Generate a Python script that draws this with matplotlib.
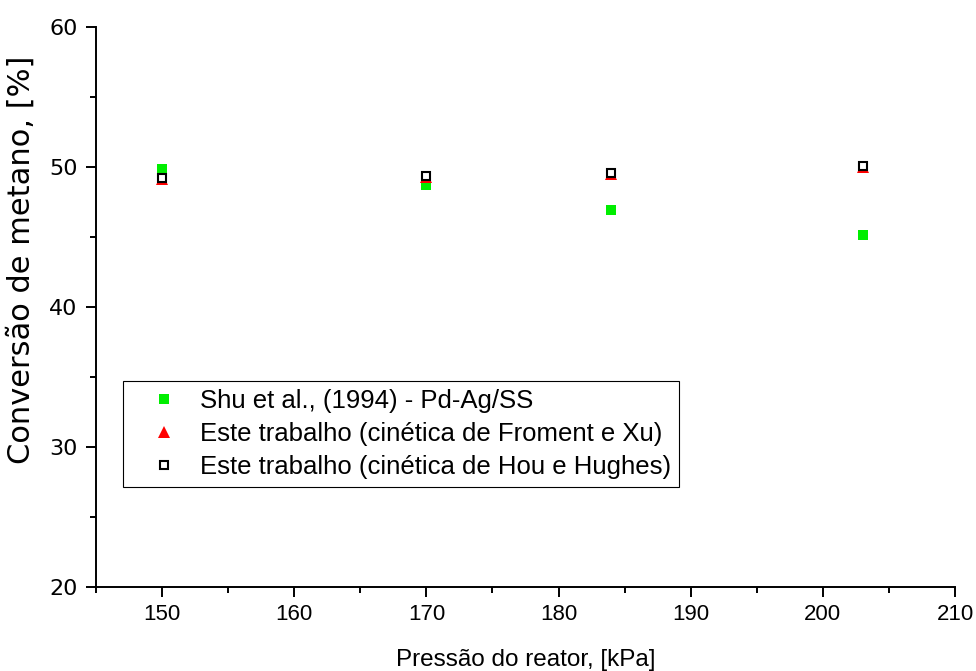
import matplotlib
matplotlib.use('Agg')
import matplotlib.pyplot as plt
from matplotlib.ticker import MultipleLocator

plt.rcParams['font.family'] = ['Liberation Sans', 'DejaVu Sans']

# data
pressure = [150, 170, 184, 203]
shu = [49.85, 48.7, 46.9, 45.15]
froment_xu = [49.15, 49.3, 49.5, 50.0]
hou_hughes = [49.2, 49.35, 49.55, 50.05]

fig = plt.figure(figsize=(9.76, 6.71), dpi=100)
ax = fig.add_axes([0.0984, 0.1252, 0.8801, 0.8346])

ax.plot(pressure, shu, 's', color='#00ee00', markersize=6.7, markeredgewidth=0,
        label='Shu et al., (1994) - Pd-Ag/SS', zorder=3)
ax.plot(pressure, froment_xu, '^', color='red', markersize=9, markeredgewidth=0,
        label='Este trabalho (cinética de Froment e Xu)', zorder=4)
ax.plot(pressure, hou_hughes, 's', markerfacecolor='white', markeredgecolor='black',
        markersize=6.3, markeredgewidth=1.5,
        label='Este trabalho (cinética de Hou e Hughes)', zorder=5)

ax.set_xlim(145, 210)
ax.set_ylim(20, 60)
ax.xaxis.set_major_locator(MultipleLocator(10))
ax.xaxis.set_minor_locator(MultipleLocator(5))
ax.yaxis.set_major_locator(MultipleLocator(10))
ax.yaxis.set_minor_locator(MultipleLocator(5))

ax.spines['top'].set_visible(False)
ax.spines['right'].set_visible(False)
for s in ['left', 'bottom']:
    ax.spines[s].set_linewidth(1.4)

ax.tick_params(which='major', direction='out', length=7.2, width=1.4)
ax.tick_params(which='minor', direction='out', length=4.3, width=1.4)
ax.tick_params(axis='x', which='major', labelsize=16, pad=5)
ax.tick_params(axis='y', which='major', labelsize=16, pad=6,
               labelfontfamily='DejaVu Sans')

ax.set_xlabel('Pressão do reator, [kPa]', fontsize=17.5, labelpad=17)
ax.set_ylabel('Conversão de metano, [%]', fontsize=22, family='DejaVu Sans')
ax.yaxis.set_label_coords(-0.07, 0.584)

leg = ax.legend(loc='lower left', bbox_to_anchor=(0.031, 0.179), fontsize=18.5,
                frameon=True, fancybox=False, edgecolor='black', framealpha=1,
                handletextpad=0.1, borderpad=0.3, labelspacing=0.35, handlelength=2.6,
                borderaxespad=0)
leg.get_frame().set_linewidth(0.8)

fig.savefig('out.png', dpi=100)
